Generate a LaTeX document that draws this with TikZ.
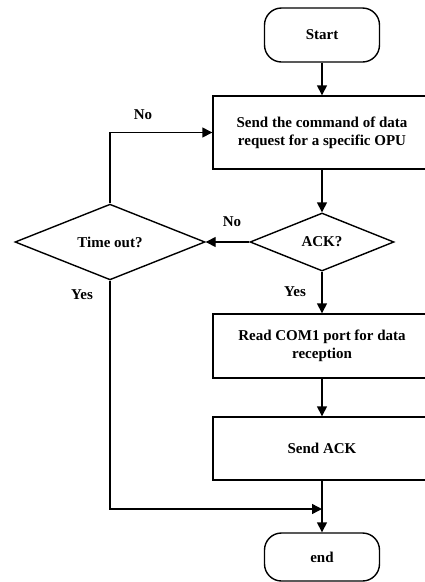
\documentclass[tikz,border=0pt]{standalone}
\usepackage{fontspec}
\setmainfont{Liberation Serif}
\usetikzlibrary{shapes.geometric,arrows.meta}
\tikzset{
  txt/.style={font=\fontsize{15}{18}\selectfont\bfseries},
  terminal/.style={draw, txt, line width=1.4pt, rounded corners=17pt, minimum width=115pt, minimum height=54pt},
  procbox/.style={draw, txt, line width=1.4pt, align=center, minimum width=218pt},
  decision/.style={draw, txt, diamond, line width=1.4pt, inner sep=0pt, minimum height=58pt},
  flow/.style={-{Triangle[length=10pt,width=10pt]}, line width=1.4pt},
}

\begin{document}
\begin{tikzpicture}[x=1pt, y=-1pt]
    \useasboundingbox (0,0) rectangle (425,582);
    \clip (0,0) rectangle (425,582);

    \node[terminal] (start) at (322,35) {Start};
    \node[procbox, minimum height=73pt] (request) at (322,132.5) {Send the command of data\\request for a specific OPU};
    \node[decision, minimum width=144pt] (ack) at (322,242) {ACK?};
    \node[decision, minimum width=190pt] (timeout) at (110,242) {Time out?};
    \node[procbox, minimum height=64pt] (readport) at (322,346) {Read COM1 port for data\\reception};
    \node[procbox, minimum height=63pt] (sendack) at (322,448.5) {Send ACK};
    \node[terminal, minimum height=48pt] (end) at (322,557) {end};
    \coordinate (join) at (322,509);

    \draw[flow] (start) -- (request);
    \draw[flow] (request) -- (ack);
    \draw[flow] (ack) -- (timeout);
    \draw[flow] (timeout.north) |- (request.west);
    \draw[flow] (ack) -- (readport);
    \draw[flow] (readport) -- (sendack);
    \draw[flow] (timeout.south) |- (join);
    \draw[flow] (sendack) -- (end);

    \node[txt] (nolabel) at (143,115) {No};
    \node[txt] (noack) at (232,222) {No};
    \node[txt] (yestime) at (82,295) {Yes};
    \node[txt] (yesack) at (295,292) {Yes};
\end{tikzpicture}
\end{document}
